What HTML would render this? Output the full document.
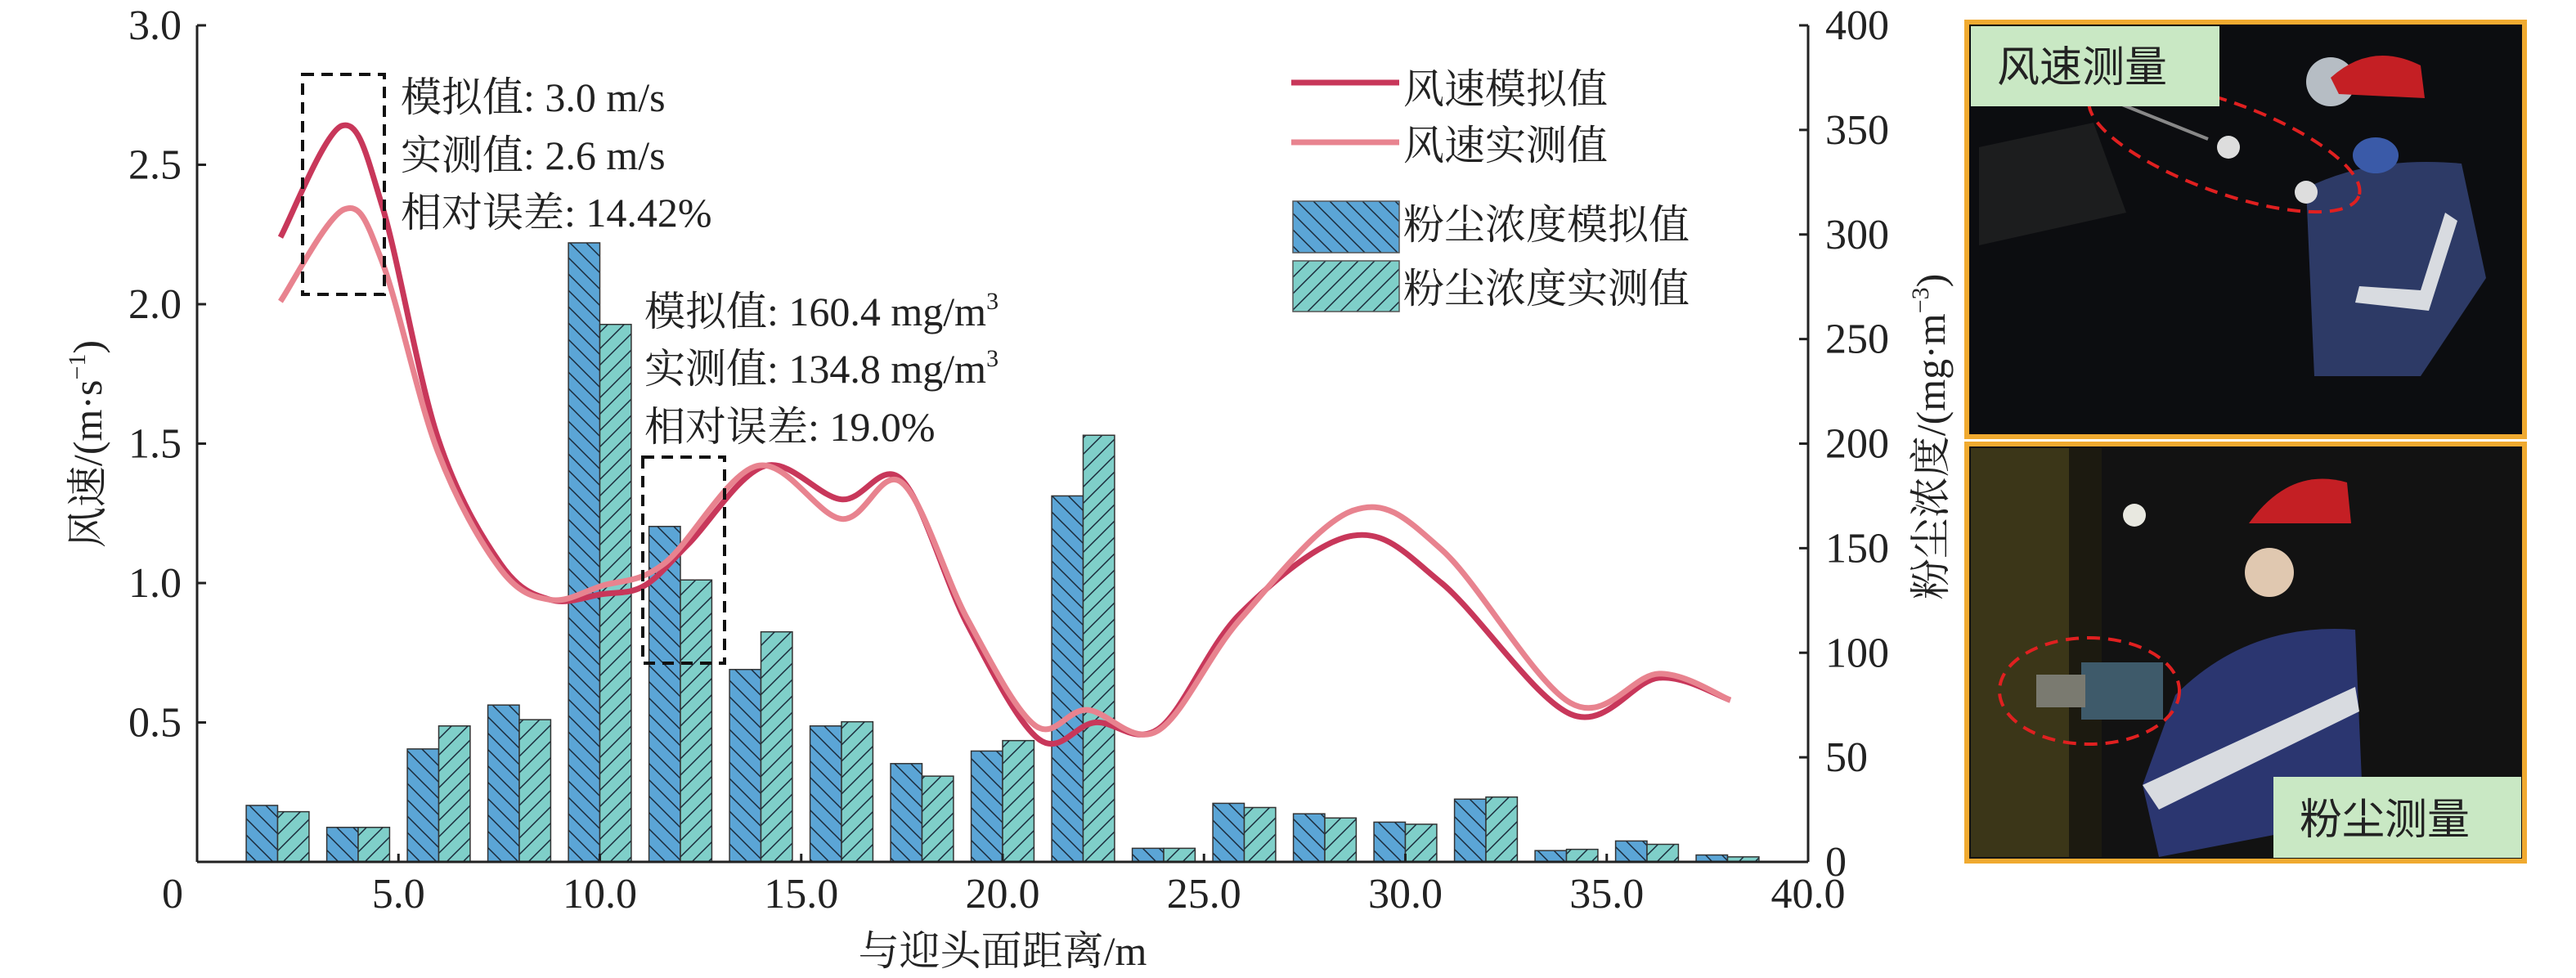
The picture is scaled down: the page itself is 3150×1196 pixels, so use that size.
<!DOCTYPE html>
<html><head><meta charset="utf-8">
<style>
html,body{margin:0;padding:0;background:#fff;}
svg{display:block;font-family:"Liberation Serif","Noto Serif CJK SC",serif;}
svg text{font-family:"Liberation Serif","Noto Serif CJK SC",serif;fill:#222;}
svg text.sans{font-family:"Liberation Sans","Noto Sans CJK SC",sans-serif;}
</style></head>
<body>
<svg id="chart" width="3150" height="1196" viewBox="0 0 3150 1196" xmlns="http://www.w3.org/2000/svg" font-family="Liberation Serif, Noto Serif CJK SC, serif">
<defs>
<pattern id="hatchSim" patternUnits="userSpaceOnUse" width="20" height="20">
<rect width="20" height="20" fill="#5BA5D6"/>
<path d="M-5,-5 L25,25 M-5,15 L5,25 M15,-5 L25,5" stroke="#1a2a3a" stroke-width="1.5"/>
</pattern>
<pattern id="hatchMea" patternUnits="userSpaceOnUse" width="20" height="20">
<rect width="20" height="20" fill="#7FCFC9"/>
<path d="M-5,25 L25,-5 M-5,5 L5,-5 M15,25 L25,15" stroke="#1a2a3a" stroke-width="1.5"/>
</pattern>
</defs>
<g id="bars"></g>
<g id="lines"></g>
<g id="axes" font-family="Liberation Serif, Noto Serif CJK SC, serif"></g>

<rect x="370" y="91" width="100" height="269" fill="none" stroke="#111" stroke-width="4" stroke-dasharray="14,9"/>
<g font-size="50" font-family="Liberation Serif, Noto Serif CJK SC, serif">
<text x="490" y="136">模拟值: 3.0 m/s</text>
<text x="490" y="207">实测值: 2.6 m/s</text>
<text x="490" y="277">相对误差: 14.42%</text>
</g>
<rect x="786" y="559" width="100" height="252" fill="none" stroke="#111" stroke-width="4" stroke-dasharray="14,9"/>
<g font-size="50" font-family="Liberation Serif, Noto Serif CJK SC, serif">
<text x="788" y="398">模拟值: 160.4 mg/m<tspan font-size="30" dy="-20">3</tspan></text>
<text x="788" y="468">实测值: 134.8 mg/m<tspan font-size="30" dy="-20">3</tspan></text>
<text x="788" y="539">相对误差: 19.0%</text>
</g>

<g font-size="50" font-family="Liberation Serif, Noto Serif CJK SC, serif">
<g>
<line x1="1579" y1="101" x2="1711" y2="101" stroke="#C8375A" stroke-width="7"/>
<text x="1716" y="126">风速模拟值</text></g>
<g>
<line x1="1579" y1="174" x2="1711" y2="174" stroke="#E8838F" stroke-width="7"/>
<text x="1716" y="195">风速实测值</text></g>
<g>
<rect x="1581" y="246" width="130" height="63" fill="url(#hatchSim)" stroke="#555" stroke-width="1.5"/>
<text x="1716" y="292">粉尘浓度模拟值</text></g>
<g>
<rect x="1581" y="319" width="130" height="62" fill="url(#hatchMea)" stroke="#555" stroke-width="1.5"/>
<text x="1716" y="370">粉尘浓度实测值</text></g>
</g>

<g>
<rect x="2405" y="27" width="682" height="507" fill="#0c0d10" stroke="#F0AA30" stroke-width="6"/>
<path d="M2420,180 L2560,150 L2600,260 L2420,300 Z" fill="#1c1d1e"/>
<circle cx="2850" cy="100" r="30" fill="#c9d0d8" opacity="0.9"/>
<path d="M2850,95 Q2900,50 2960,80 L2965,120 L2860,115 Z" fill="#c41f24"/>
<path d="M2820,230 Q2900,190 3010,200 L3040,340 L2960,460 L2830,460 Z" fill="#2d3a66"/>
<path d="M2990,260 L3005,270 L2970,380 L2880,370 L2885,350 L2960,355 Z" fill="#d8dbe0"/>
<ellipse cx="2905" cy="190" rx="28" ry="22" fill="#3a5aa8"/>
<line x1="2500" y1="90" x2="2700" y2="170" stroke="#888" stroke-width="4"/>
<circle cx="2725" cy="180" r="14" fill="#ddd"/>
<circle cx="2820" cy="235" r="14" fill="#ddd"/>
<ellipse cx="2720" cy="180" rx="175" ry="55" transform="rotate(20 2720 180)" fill="none" stroke="#e02020" stroke-width="4" stroke-dasharray="16,10"/>
<rect x="2410" y="32" width="304" height="98" fill="#C9E8C4"/>
<text class="sans" x="2442" y="100" font-size="52" fill="#111">风速测量</text>
</g>
<g>
<rect x="2405" y="543" width="682" height="510" fill="#121212" stroke="#F0AA30" stroke-width="6"/>
<rect x="2410" y="548" width="120" height="500" fill="#3b3618"/>
<rect x="2530" y="548" width="40" height="500" fill="#1c1a10"/>
<circle cx="2610" cy="630" r="14" fill="#e8e8e0"/>
<path d="M2750,640 Q2800,570 2870,590 L2875,640 Z" fill="#c41f24"/>
<path d="M2660,850 Q2750,760 2880,770 L2890,1000 L2640,1048 L2620,960 Z" fill="#2b3670"/>
<path d="M2620,960 L2880,840 L2885,870 L2640,990 Z" fill="#d8dbe0"/>
<ellipse cx="2775" cy="700" rx="30" ry="30" fill="#e0c8b0"/>
<rect x="2545" y="810" width="100" height="70" fill="#3e5a6a"/>
<rect x="2490" y="825" width="60" height="40" fill="#7a7a70"/>
<ellipse cx="2555" cy="845" rx="110" ry="65" fill="none" stroke="#e02020" stroke-width="4" stroke-dasharray="16,10"/>
<rect x="2780" y="950" width="303" height="99" fill="#C9E8C4"/>
<text class="sans" x="2812" y="1020" font-size="52" fill="#111">粉尘测量</text>
</g>
</svg>
<script>
const positions = [2,4,6,8,10,12,14,16,18,20,22,24,26,28,30,32,34,36,38];
const dustSim = [27,16.5,54,75,296,160.4,92,65,47,53,175,6.5,28,23,19,30,5.4,10,3.3];
const dustMea = [24,16.5,65,68,257,134.8,110,67,41,58,204,6.5,26,21,18,31,6,8.4,2.4];
const windX = [2.07,3.6,4.6,5.98,7.53,8.77,10.05,11.1,12.2,14.1,16.0,17.5,19.13,20.9,22.3,23.9,25.9,28.7,30.9,34.1,36.3,38.07];
const windSim = [2.24,2.64,2.35,1.52,1.07,0.94,0.96,0.99,1.14,1.42,1.30,1.37,0.85,0.44,0.50,0.48,0.89,1.17,1.00,0.53,0.66,0.58];
const windXM = [2.07,3.65,4.6,5.98,7.53,8.77,10.05,11.6,13.9,16.0,17.5,19.13,20.8,22.1,23.85,25.9,28.7,30.9,34.1,36.3,38.07];
const windMea = [2.01,2.34,2.15,1.47,1.05,0.94,0.99,1.07,1.42,1.23,1.36,0.87,0.49,0.545,0.47,0.87,1.26,1.12,0.57,0.675,0.58];
const xTicks = [0,5,10,15,20,25,30,35,40];
const xTickLabels = ["0","5.0","10.0","15.0","20.0","25.0","30.0","35.0","40.0"];
const yTicks = [0.5,1.0,1.5,2.0,2.5,3.0];
const yTickLabels = ["0.5","1.0","1.5","2.0","2.5","3.0"];
const y2Ticks = [0,50,100,150,200,250,300,350,400];

const X0=241,X1=2211,YT=31,YB=1054;
const sx=v=>X0+(X1-X0)*v/40;
const sy=v=>YB-(YB-YT)*v/3;
const sy2=v=>YB-(YB-YT)*v/400;
const NS="http://www.w3.org/2000/svg";
function mk(tag,attrs,parent){const e=document.createElementNS(NS,tag);for(const k in attrs)e.setAttribute(k,attrs[k]);parent.appendChild(e);return e;}
const bars=document.getElementById('bars'),lines=document.getElementById('lines'),axes=document.getElementById('axes');
const bw=(sx(0.78)-sx(0));
positions.forEach((p,i)=>{
  const r1=mk('rect',{x:sx(p)-bw,y:sy2(dustSim[i]),width:bw,height:YB-sy2(dustSim[i]),fill:'url(#hatchSim)',stroke:'#333','stroke-width':1.5},bars);
  
  
  const r2=mk('rect',{x:sx(p),y:sy2(dustMea[i]),width:bw,height:YB-sy2(dustMea[i]),fill:'url(#hatchMea)',stroke:'#333','stroke-width':1.5},bars);
  
  
});
function spline(xs,ys){
  const P=xs.map((x,i)=>[sx(x),sy(ys[i])]);
  let d='M'+P[0][0]+','+P[0][1];
  for(let i=0;i<P.length-1;i++){
    const p0=P[i-1]||P[i],p1=P[i],p2=P[i+1],p3=P[i+2]||P[i+1];
    const c1=[p1[0]+(p2[0]-p0[0])/6,p1[1]+(p2[1]-p0[1])/6];
    const c2=[p2[0]-(p3[0]-p1[0])/6,p2[1]-(p3[1]-p1[1])/6];
    d+=' C'+c1+' '+c2+' '+p2;
  }
  return d;
}
const l1=mk('path',{d:spline(windX,windSim),fill:'none',stroke:'#C8375A','stroke-width':7,'stroke-linejoin':'round'},lines);


const l2=mk('path',{d:spline(windXM,windMea),fill:'none',stroke:'#E8838F','stroke-width':7,'stroke-linejoin':'round'},lines);



mk('line',{x1:X0,y1:YT,x2:X0,y2:YB,stroke:'#222','stroke-width':3},axes);
mk('line',{x1:X1,y1:YT,x2:X1,y2:YB,stroke:'#222','stroke-width':3},axes);
mk('line',{x1:X0,y1:YB,x2:X1,y2:YB,stroke:'#222','stroke-width':3},axes);
xTicks.forEach((v,i)=>{
  mk('line',{x1:sx(v),y1:YB,x2:sx(v),y2:YB-10,stroke:'#222','stroke-width':3},axes);
  const t=mk('text',{x:i===0?sx(v)-30:sx(v),y:1110,'font-size':52,'text-anchor':'middle'},axes);
  t.textContent=xTickLabels[i];
  
  
});
yTicks.forEach((v,i)=>{
  mk('line',{x1:X0,y1:sy(v),x2:X0+11,y2:sy(v),stroke:'#222','stroke-width':3},axes);
  const t=mk('text',{x:222,y:sy(v)+17,'font-size':52,'text-anchor':'end'},axes);
  t.textContent=yTickLabels[i];
  
  
});
y2Ticks.forEach(v=>{
  mk('line',{x1:X1,y1:sy2(v),x2:X1-11,y2:sy2(v),stroke:'#222','stroke-width':3},axes);
  const t=mk('text',{x:2232,y:sy2(v)+17,'font-size':52},axes);
  t.textContent=String(v);
  
  
});
const xt=mk('text',{x:1226,y:1180,'font-size':50,'text-anchor':'middle'},axes);
xt.textContent='与迎头面距离/m';


const yt=mk('text',{x:0,y:0,'font-size':50,'text-anchor':'middle',transform:'translate(124,543) rotate(-90)'},axes);
yt.innerHTML='风速/(m·s<tspan font-size="30" dy="-20">−1</tspan><tspan dy="20">)</tspan>';


const y2t=mk('text',{x:0,y:0,'font-size':50,'text-anchor':'middle',transform:'translate(2378,534) rotate(-90)'},axes);
y2t.innerHTML='粉尘浓度/(mg·m<tspan font-size="30" dy="-20">−3</tspan><tspan dy="20">)</tspan>';


</script>
</body></html>
